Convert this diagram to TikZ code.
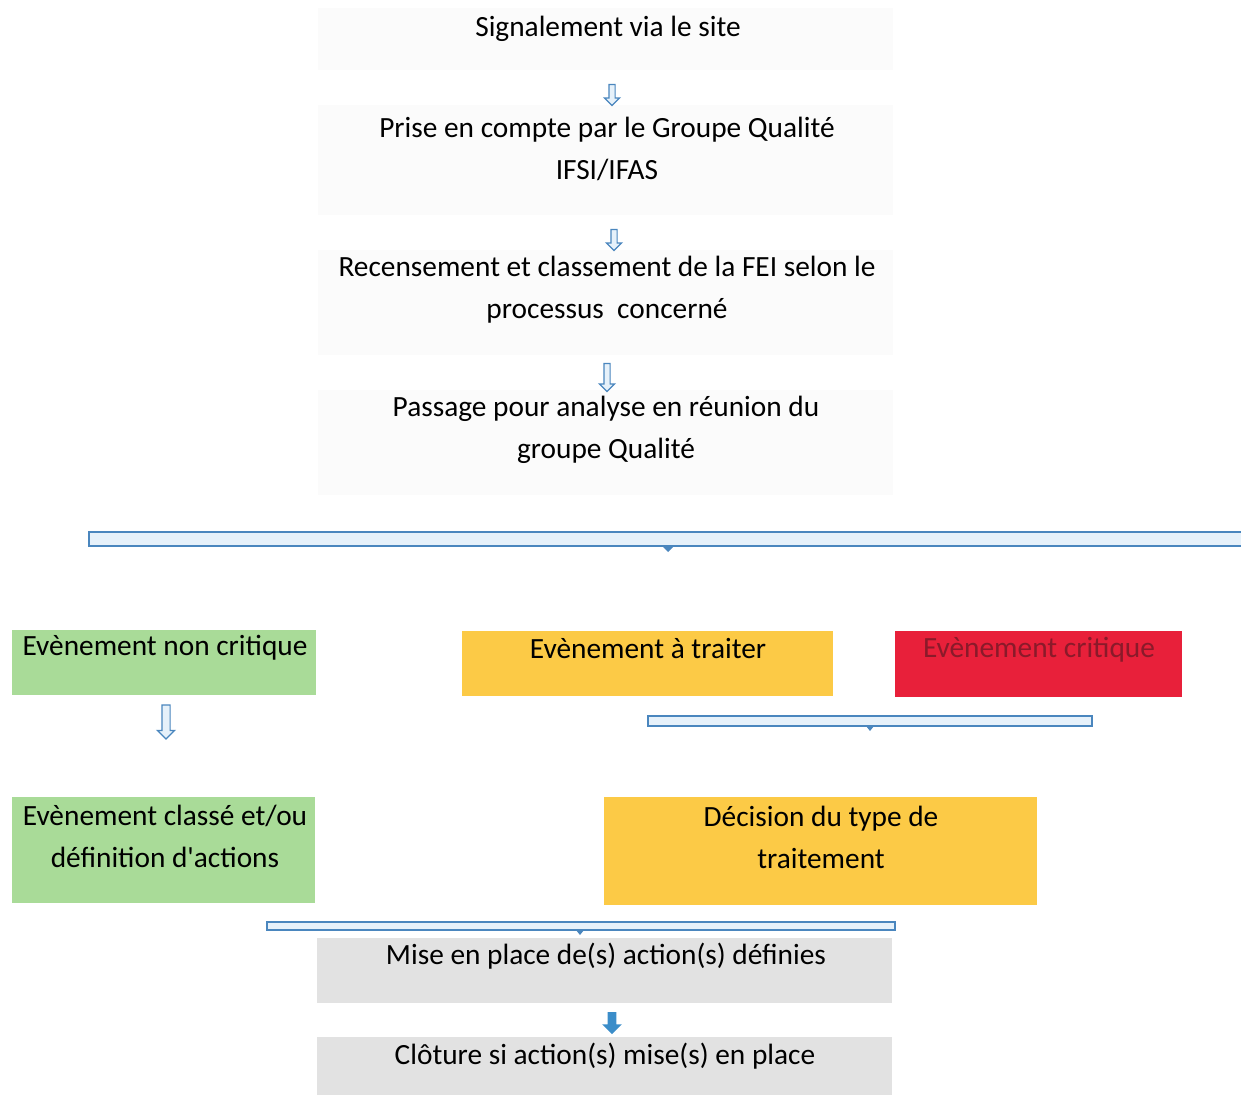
\documentclass[tikz,border=0pt]{standalone}
\usepackage{fontspec}
\setmainfont{Carlito}
\usetikzlibrary{shapes.arrows,fit,positioning}

\definecolor{boxgrey}{HTML}{FBFBFB}
\definecolor{actgrey}{HTML}{E2E2E2}
\definecolor{okgreen}{HTML}{A9DB98}
\definecolor{todoorange}{HTML}{FCCA46}
\definecolor{critred}{HTML}{E8203A}
\definecolor{crittext}{HTML}{8A1A2A}
\definecolor{arrowblue}{HTML}{4A86BE}
\definecolor{arrowfill}{HTML}{E6F1FA}
\definecolor{solidblue}{HTML}{3B8DC9}

\tikzset{
  zone/.style={inner sep=0pt, outer sep=0pt},
  txt/.style={align=center, font=\fontsize{16.7}{23.9}\selectfont, inner sep=0pt},
  hollow/.style={single arrow, draw=arrowblue, fill=arrowfill, line width=0.7pt,
    rotate=-90, inner xsep=0pt, inner ysep=0.05cm,
    single arrow head extend=0.09cm, single arrow tip angle=90},
  bar/.style={draw=arrowblue, fill=arrowfill, line width=1pt},
}

\begin{document}
\begin{tikzpicture}[x=0.02cm, y=-0.02cm]
    \useasboundingbox (0,0) rectangle (1241,1095);

    % Reporting steps (pale boxes)
    \node[zone, fill=boxgrey, fit={(318,8) (893,70)}] (site) {};
    \node[zone, fill=boxgrey, fit={(318,105) (893,215)}] (prise) {};
    \node[zone, fill=boxgrey, fit={(318,250) (893,355)}] (recens) {};
    \node[zone, fill=boxgrey, fit={(318,390) (893,495)}] (passage) {};

    \node[txt] (siteT) at (608,29) {Signalement via le site};
    \node[txt] (priseT) at (607,148.5) {Prise en compte par le Groupe Qualité\\IFSI/IFAS};
    \node[txt] (recensT) at (607,290) {Recensement et classement de la FEI selon le\\processus\ \ concerné};
    \node[txt] (passageT) at (606,430) {Passage pour analyse en réunion du\\groupe Qualité};

    % Small arrows between steps
    \node[hollow, minimum height=0.42cm] (arrA) at (612,93.5) {};
    \node[hollow, minimum height=0.42cm] (arrB) at (614,238.5) {};
    \node[hollow, minimum height=0.56cm] (arrC) at (607,376) {};

    % Split bar
    \draw[bar] (89,532) rectangle (1260,546);
    \fill[arrowblue] (662,546) -- (674,546) -- (668,552) -- cycle;

    % Event classes
    \node[zone, fill=okgreen, fit={(12,630) (316,695)}] (noncrit) {};
    \node[zone, fill=todoorange, fit={(462,631) (833,696)}] (traiter) {};
    \node[zone, fill=critred, fit={(895,631) (1182,697)}] (crit) {};

    \node[txt] (noncritT) at (165,648) {Evènement non critique};
    \node[txt] (traiterT) at (648,649) {Evènement à traiter};
    \node[txt, text=crittext] (critT) at (1039,650) {Evènement critique};

    \node[hollow, minimum height=0.68cm, inner ysep=0.07cm] (arrD) at (166,720) {};

    \draw[bar, line width=0.9pt] (648,716) rectangle (1092,726);
    \fill[arrowblue] (866,726) -- (874,726) -- (870,731) -- cycle;

    % Second level
    \node[zone, fill=okgreen, fit={(12,797) (315,903)}] (classe) {};
    \node[zone, fill=todoorange, fit={(604,797) (1037,905)}] (decision) {};

    \node[txt] (classeT) at (165,836.5) {Evènement classé et/ou\\définition d\textquotesingle actions};
    \node[txt] (decisionT) at (821,837) {Décision du type de\\traitement};

    \draw[bar, line width=0.9pt] (267,922) rectangle (895,930);
    \fill[arrowblue] (576,930) -- (584,930) -- (580,935) -- cycle;

    % Actions and closure
    \node[zone, fill=actgrey, fit={(317,938) (892,1003)}] (mise) {};
    \node[zone, fill=actgrey, fit={(317,1037) (892,1100)}] (cloture) {};

    \node[txt] (miseT) at (606,956) {Mise en place de(s) action(s) définies};
    \node[txt] (clotureT) at (605,1056) {Clôture si action(s) mise(s) en place};

    \node[single arrow, fill=solidblue, rotate=-90, inner xsep=0pt, inner ysep=0.08cm,
      minimum height=0.44cm, single arrow head extend=0.11cm,
      single arrow tip angle=90] (arrE) at (612,1021) {};
\end{tikzpicture}
\end{document}
